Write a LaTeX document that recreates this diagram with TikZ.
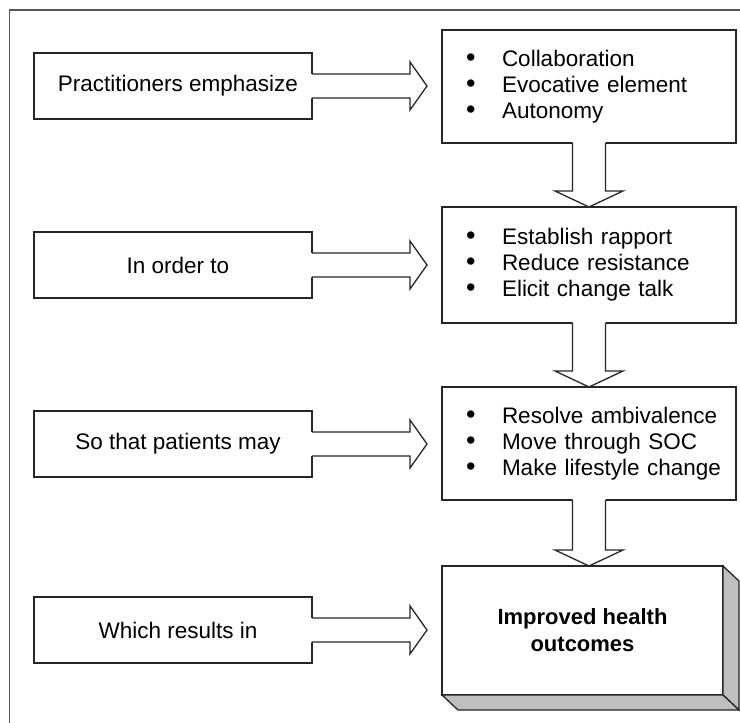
\documentclass[tikz,border=0pt]{standalone}
\usepackage{fontspec}
\setmainfont{Liberation Sans}
\usetikzlibrary{calc}
\newcommand\mybul{\hspace*{24pt}\makebox[36pt][l]{\fontsize{27}{26}\selectfont•}}
\newcommand\myHarrow[2]{%
  \coordinate (t) at ($(#1.east -| #2.west)+(-15,0)$);
  \fill[white] ($(#1.east)+(-1.5,-12)$) -- ($(t)+(-17,-12)$) -- ($(t)+(-17,-24)$) -- (t) -- ($(t)+(-17,24)$) -- ($(t)+(-17,12)$) -- ($(#1.east)+(-1.5,12)$) -- cycle;
  \draw[ln] ($(#1.east)+(0,-12)$) -- ($(t)+(-17,-12)$) -- ($(t)+(-17,-24)$) -- (t) -- ($(t)+(-17,24)$) -- ($(t)+(-17,12)$) -- ($(#1.east)+(0,12)$);
}
\newcommand\myVarrow[2]{%
  \coordinate (t) at (#1.south |- #2.north);
  \fill[white] ($(#1.south)+(-16.5,-1.5)$) -- ($(t)+(-16.5,-16)$) -- ($(t)+(-34,-16)$) -- (t) -- ($(t)+(34,-16)$) -- ($(t)+(16.5,-16)$) -- ($(#1.south)+(16.5,-1.5)$) -- cycle;
  \draw[ln] ($(#1.south)+(-16.5,0)$) -- ($(t)+(-16.5,-16)$) -- ($(t)+(-34,-16)$) -- (t) -- ($(t)+(34,-16)$) -- ($(t)+(16.5,-16)$) -- ($(#1.south)+(16.5,0)$);
}
\begin{document}
\begin{tikzpicture}[x=1pt,y=-1pt,
  ln/.style={draw=black!85,line width=1.3pt,line join=miter},
  lbox/.style={ln,fill=white,minimum width=278pt,minimum height=66pt,inner sep=0pt,outer sep=0pt,
    font=\fontsize{22.5}{25.5}\selectfont},
  rbox/.style={ln,fill=white,inner xsep=0pt,inner ysep=0pt,outer sep=0pt,text width=294pt,align=left,
    font=\fontsize{22.5}{26}\selectfont},
  frame/.style={draw=black!65,line width=1.5pt}]
\useasboundingbox (0,0) rectangle (740,723);
\fill[white] (0,0) rectangle (740,723);
\draw[frame] (9.5,723) -- (9.5,10) -- (740,10);

\node[lbox] (L1) at (173,86) {\hspace{10pt}Practitioners emphasize};
\node[lbox] (L2) at (173,265) {\hspace{10pt}In order to};
\node[lbox] (L3) at (173,444) {\hspace{10pt}So that patients may};
\node[lbox] (L4) at (173,630) {\hspace{10pt}Which results in};

\node[rbox,minimum height=113pt] (R1) at (589,86.5) {\mybul Collaboration\\\mybul Evocative element\\\mybul Autonomy\vphantom{g}};
\node[rbox,minimum height=116pt] (R2) at (589,265) {\mybul Establish rapport\\\mybul Reduce resistance\\\mybul Elicit change talk\vphantom{g}};
\node[rbox,minimum height=113pt] (R3) at (589,443.5) {\mybul Resolve ambivalence\\\mybul Move through SOC\\\mybul Make lifestyle change};
\node[ln,fill=white,minimum width=281pt,minimum height=129pt,inner sep=0pt,outer sep=0pt,align=center,
  font=\fontsize{22}{27}\selectfont\bfseries] (R4) at (582.5,630.5) {Improved health\\outcomes};
\draw[ln,fill=black!25] (R4.north east) -- ++(16,15) -- ++(0,129) -- (R4.south east) -- cycle;
\draw[ln,fill=black!25] (R4.south west) -- (R4.south east) -- ++(16,15) -- ($(R4.south west)+(16,15)$) -- cycle;

\myHarrow{L1}{R1}
\myHarrow{L2}{R2}
\myHarrow{L3}{R3}
\myHarrow{L4}{R4}
\myVarrow{R1}{R2}
\myVarrow{R2}{R3}
\myVarrow{R3}{R4}
\end{tikzpicture}
\end{document}
